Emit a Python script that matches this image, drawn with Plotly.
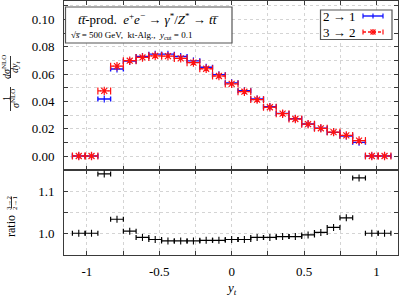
import plotly.graph_objects as go

# ---------------- data ----------------
bin_centers = [-1.056, -0.968, -0.880, -0.792, -0.704, -0.616, -0.528, -0.440, -0.352,
               -0.264, -0.176, -0.088, 0.0, 0.088, 0.176, 0.264, 0.352, 0.440, 0.528,
               0.616, 0.704, 0.792, 0.880, 0.968, 1.056]
bin_half_width = 0.044
dist_21 = [0, 0, 0.0417, 0.0637, 0.0695, 0.0729, 0.0746, 0.0746, 0.0729, 0.0697, 0.0650,
           0.0596, 0.0536, 0.0478, 0.0417, 0.0361, 0.0312, 0.0273, 0.0234, 0.0203, 0.0173,
           0.0146, 0.0100, 0, 0]
dist_32 = [0, 0, 0.0477, 0.0658, 0.0698, 0.0722, 0.0734, 0.0732, 0.0715, 0.0684, 0.0639,
           0.0586, 0.0528, 0.0471, 0.0413, 0.0357, 0.0310, 0.0271, 0.0233, 0.0203, 0.0175,
           0.0151, 0.0113, 0, 0]
ratio_32_21 = [1.0, 1.0, 1.1425, 1.0337, 1.005, 0.990, 0.985, 0.9815, 0.9815, 0.9815, 0.983,
               0.983, 0.985, 0.985, 0.990, 0.990, 0.992, 0.992, 0.996, 1.002, 1.014, 1.037,
               1.133, 1.0, 1.0]
x_tickvals = [-1, -0.5, 0, 0.5, 1]
x_ticktext = ["-1", "-0.5", "0", "0.5", "1"]
top_tickvals = [0.0, 0.02, 0.04, 0.06, 0.08, 0.10]
top_ticktext = ["0.00", "0.02", "0.04", "0.06", "0.08", "0.10"]
bot_tickvals = [1.0, 1.1]
bot_ticktext = ["1.0", "1.1"]
legend_labels = ["2 \u2192 1", "3 \u2192 2"]

# ---------------- geometry ----------------
W, H = 399, 296
ML, MR, MT, MB = 64, 1, 1, 41
PL, PR, PT, PB = ML, W - MR, MT, H - MB
split_px = 170
split = (PB - split_px) / (PB - PT)


def pxx(px):
    return (px - PL) / (PR - PL)


def pxy(py):
    return (PB - py) / (PB - PT)


FONT = "Liberation Serif"
BLUE = "#1010ff"
RED = "#ff1010"
AXC = "#3a3a3a"
GRID = "#d4d4d4"

fig = go.Figure()

# blue: 2 -> 1
fig.add_trace(go.Scatter(
    x=bin_centers, y=dist_21, mode="markers", xaxis="x", yaxis="y",
    marker=dict(symbol="line-ns-open", size=5, color=BLUE, line=dict(color=BLUE, width=1.2)),
    error_x=dict(type="constant", value=bin_half_width, color=BLUE, thickness=1.4, width=2.5),
    showlegend=False))

# red: 3 -> 2 (dashed bars)
seg_x, seg_y, cap_x, cap_y = [], [], [], []
for c, v in zip(bin_centers, dist_32):
    seg_x += [c - bin_half_width, c + bin_half_width, None]
    seg_y += [v, v, None]
    cap_x += [c - bin_half_width, c + bin_half_width]
    cap_y += [v, v]
fig.add_trace(go.Scatter(x=seg_x, y=seg_y, mode="lines", xaxis="x", yaxis="y",
                         line=dict(color=RED, width=1.3, dash="3px,2px"), showlegend=False))
fig.add_trace(go.Scatter(x=cap_x, y=cap_y, mode="markers", xaxis="x", yaxis="y",
                         marker=dict(symbol="line-ns-open", size=5, color=RED,
                                     line=dict(color=RED, width=1.2)), showlegend=False))
fig.add_trace(go.Scatter(x=bin_centers, y=dist_32, mode="markers", xaxis="x", yaxis="y",
                         marker=dict(symbol="asterisk-open", size=7, color=RED,
                                     line=dict(color=RED, width=1.2)), showlegend=False))

# ratio
fig.add_trace(go.Scatter(
    x=bin_centers, y=ratio_32_21, mode="markers", xaxis="x2", yaxis="y2",
    marker=dict(symbol="line-ns-open", size=5, color="black", line=dict(color="black", width=1.1)),
    error_x=dict(type="constant", value=bin_half_width, color="black", thickness=1.2, width=2.5),
    showlegend=False))


def axis_common(minor_dtick):
    return dict(showline=True, linecolor=AXC, linewidth=1, mirror="ticks",
                ticks="inside", ticklen=4, tickcolor=AXC, tickwidth=1,
                showgrid=True, gridcolor=GRID, griddash="dot", gridwidth=1,
                zeroline=False, tickfont=dict(family=FONT, size=13, color="black"),
                minor=dict(tick0=0, dtick=minor_dtick, ticks="inside", ticklen=4,
                           tickcolor=AXC, tickwidth=1, showgrid=True, gridcolor=GRID,
                           griddash="dot", gridwidth=1))


fig.update_layout(
    width=W, height=H,
    margin=dict(l=ML, r=MR, t=MT, b=MB),
    paper_bgcolor="white", plot_bgcolor="white",
    font=dict(family=FONT, color="black"),
    xaxis=dict(domain=[0, 1], anchor="y", range=[-1.158, 1.149], tickmode="array",
               tickvals=x_tickvals, showticklabels=False, **axis_common(0.25)),
    yaxis=dict(domain=[split, 1], anchor="x", range=[-0.01026, 0.11355], tickmode="array",
               tickvals=top_tickvals, ticktext=top_ticktext, ticklabelstandoff=6,
               **axis_common(0.01)),
    xaxis2=dict(domain=[0, 1], anchor="y2", range=[-1.158, 1.149], tickmode="array",
                tickvals=x_tickvals, ticktext=x_ticktext, ticklabelstandoff=4,
                **axis_common(0.25)),
    yaxis2=dict(domain=[0, split], anchor="x2", range=[0.9478, 1.152], tickmode="array",
                tickvals=bot_tickvals, ticktext=bot_ticktext, ticklabelstandoff=6,
                **axis_common(0.05)),
)

shapes = []
annotations = []


def pline(x0, y0, x1, y1, color, width=1.2, dash="solid"):
    shapes.append(dict(type="line", xref="paper", yref="paper", x0=pxx(x0), x1=pxx(x1),
                       y0=pxy(y0), y1=pxy(y1), line=dict(color=color, width=width, dash=dash)))


# title box
shapes.append(dict(type="rect", xref="paper", yref="paper", x0=pxx(65.5), x1=pxx(232),
                   y0=pxy(43), y1=pxy(7), line=dict(color="#555555", width=1.2),
                   fillcolor="white", layer="above"))
annotations.append(dict(
    xref="paper", yref="paper", x=pxx(148.5), y=pxy(19.5), xanchor="center", yanchor="middle",
    showarrow=False, font=dict(family=FONT, size=13),
    text="<i>t</i><i>t\u0305</i>-prod.  <i>e</i><sup>+</sup><i>e</i><sup>\u2212</sup> \u2192 "
         "<i>\u03b3</i><sup>*</sup>/<i>Z</i><sup>*</sup> \u2192 <i>t</i><i>t\u0305</i>"))
annotations.append(dict(
    xref="paper", yref="paper", x=pxx(69), y=pxy(35.5), xanchor="left", yanchor="middle",
    showarrow=False, font=dict(family=FONT, size=9),
    text="\u221a<i>s\u0305</i> = 500 GeV,  kt-Alg.,  <i>y</i><sub>cut</sub> = 0.1"))

# legend box
shapes.append(dict(type="rect", xref="paper", yref="paper", x0=pxx(320.5), x1=pxx(392),
                   y0=pxy(39.5), y1=pxy(10), line=dict(color="#555555", width=1.2),
                   fillcolor="white", layer="above"))
for lab, py in zip(legend_labels, [16, 32]):
    annotations.append(dict(xref="paper", yref="paper", x=pxx(339.5), y=pxy(py),
                            xanchor="center", yanchor="middle", showarrow=False,
                            font=dict(family=FONT, size=13), text=lab))
# legend keys
lx0, lx1, lxc = 363, 383, 373
pline(lx0, 16, lx1, 16, BLUE, 1.4)
for xx in (lx0, lx1, lxc):
    pline(xx, 13.5, xx, 18.5, BLUE, 1.2)
pline(lx0, 32, lx1, 32, RED, 1.3, "3px,2px")
for xx in (lx0, lx1):
    pline(xx, 29.5, xx, 34.5, RED, 1.2)
pline(lxc, 29, lxc, 35, RED, 1.3)
pline(lxc - 2.5, 29.5, lxc + 2.5, 34.5, RED, 1.3)
pline(lxc - 2.5, 34.5, lxc + 2.5, 29.5, RED, 1.3)
pline(lxc - 3, 32, lxc + 3, 32, RED, 1.3)


# y-axis label (top): 1/sigma * dsigma/dy
def frac(num, den, cx, cy, half_len, size, gap):
    annotations.append(dict(xref="paper", yref="paper", x=pxx(cx - gap), y=pxy(cy),
                            xanchor="center", yanchor="middle", textangle=-90, showarrow=False,
                            font=dict(family=FONT, size=size), text=num))
    annotations.append(dict(xref="paper", yref="paper", x=pxx(cx + gap), y=pxy(cy),
                            xanchor="center", yanchor="middle", textangle=-90, showarrow=False,
                            font=dict(family=FONT, size=size), text=den))
    pline(cx, cy - half_len, cx, cy + half_len, "black", 0.8)


frac("1", "<i>\u03c3</i><sup>NLO</sup>", 10.5, 99, 12, 10, 4.5)
frac("<i>d\u03c3</i><sup>NLO</sup>", "<i>dy</i><sub><i>t</i></sub>", 10.5, 67, 11, 10, 4.5)

# y-axis label (bottom): ratio (3->2)/(2->1)
annotations.append(dict(xref="paper", yref="paper", x=pxx(11), y=pxy(226),
                        xanchor="center", yanchor="middle", textangle=-90, showarrow=False,
                        font=dict(family=FONT, size=12), text="ratio"))
frac("3\u21922", "2\u21921", 11.5, 202.5, 6, 7, 3)

# x-axis title
annotations.append(dict(xref="paper", yref="paper", x=pxx(231.5), y=pxy(288),
                        xanchor="center", yanchor="middle", showarrow=False,
                        font=dict(family=FONT, size=13), text="<i>y</i><sub><i>t</i></sub>"))

fig.update_layout(shapes=shapes, annotations=annotations)
fig.write_html("out.html", config={"displayModeBar": False, "staticPlot": True},
               post_script="document.body.style.margin='0px';document.body.style.overflow='hidden';")
